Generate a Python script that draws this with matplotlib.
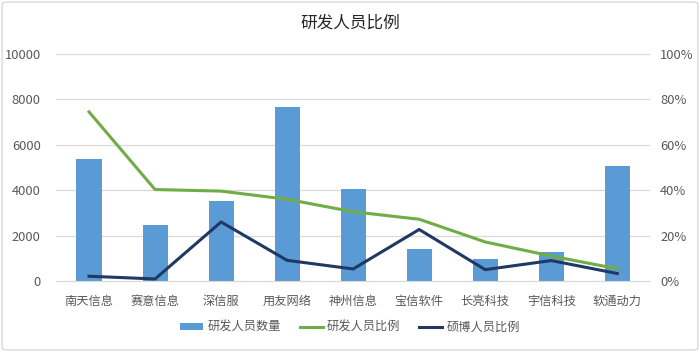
import numpy as np
import matplotlib
matplotlib.use("Agg")
import matplotlib.pyplot as plt
from matplotlib.patches import FancyBboxPatch
from matplotlib.ticker import FuncFormatter

plt.rcParams['font.family'] = ['Noto Sans CJK SC', 'DejaVu Sans']

companies = ['南天信息', '赛意信息', '深信服', '用友网络', '神州信息',
             '宝信软件', '长亮科技', '宇信科技', '软通动力']
rd_count = [5370, 2460, 3520, 7680, 4050, 1400, 950, 1280, 5060]
rd_ratio = [0.745, 0.403, 0.396, 0.36, 0.305, 0.272, 0.172, 0.11, 0.054]
master_phd_ratio = [0.021, 0.009, 0.26, 0.091, 0.053, 0.227, 0.05, 0.09, 0.033]

text_color = '#595959'
grid_color = '#D9D9D9'

fig = plt.figure(figsize=(7.0, 3.52), dpi=100)
ax = fig.add_axes([0.08, 0.2017, 0.849, 0.6449])
x = np.arange(len(companies))

bars = ax.bar(x, rd_count, width=0.38, color='#5B9BD5', label='研发人员数量', zorder=2)
ax.set_ylim(0, 10000)
ax.set_yticks(np.arange(0, 10001, 2000))
ax.set_xlim(-0.5, len(companies) - 0.5)
ax.set_xticks(x)
ax.set_xticklabels(companies)
ax.grid(axis='y', color=grid_color, linewidth=0.9, zorder=0)
ax.set_axisbelow(True)

ax2 = ax.twinx()
l1, = ax2.plot(x, rd_ratio, color='#70AD47', linewidth=2.2, label='研发人员比例', zorder=3)
l2, = ax2.plot(x, master_phd_ratio, color='#203864', linewidth=2.2, label='硕博人员比例', zorder=4)
ax2.set_ylim(0, 1)
ax2.set_yticks(np.arange(0, 1.01, 0.2))
ax2.yaxis.set_major_formatter(FuncFormatter(lambda v, p: f'{v*100:.0f}%'))

for a in (ax, ax2):
    for s in a.spines.values():
        s.set_visible(False)
    a.tick_params(length=0, labelsize=9.3, colors=text_color)
ax.spines['bottom'].set_visible(True)
ax.spines['bottom'].set_color(grid_color)
ax.tick_params(axis='y', pad=11)
ax.tick_params(axis='x', pad=10, labelsize=8.8)
ax2.tick_params(axis='y', pad=7)

fig.text(0.5, 0.935, '研发人员比例', ha='center', va='center', fontsize=12, color='#262626')

fig.legend(handles=[bars, l1, l2], loc='center', bbox_to_anchor=(0.5, 0.07), ncol=3,
           frameon=False, fontsize=8.8, labelcolor=text_color, handlelength=1.9,
           handleheight=0.5, handletextpad=0.35, columnspacing=1.5)

frame = FancyBboxPatch((0.003, 0.006), 0.994, 0.988, boxstyle='round,pad=0,rounding_size=0.006',
                       transform=fig.transFigure, fill=False, edgecolor='#D9D9D9', linewidth=1.0)
fig.patches.append(frame)

fig.savefig('out.png', dpi=100)
